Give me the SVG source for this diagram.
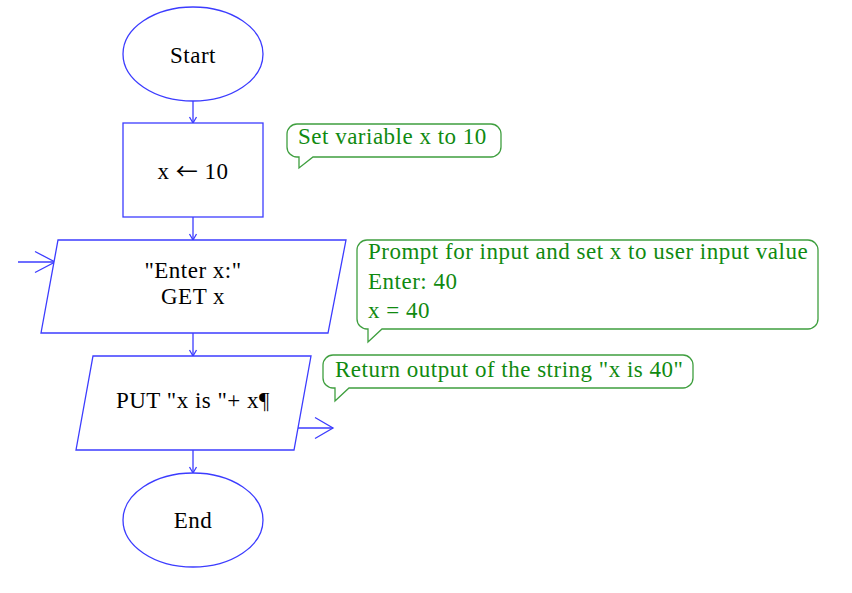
<svg xmlns="http://www.w3.org/2000/svg" width="852" height="593" viewBox="0 0 852 593">
  <style>
    .shape { fill: #ffffff; stroke: #3c3cff; stroke-width: 1.3; }
    .conn { fill: none; stroke: #3c3cff; stroke-width: 1.3; }
    .lbl { font-family: "Liberation Serif", "Times New Roman", serif; font-size: 23px; letter-spacing: 0.5px; fill: #000000; text-anchor: middle; }
    .arrowglyph { font-family: "Noto Sans CJK SC", "DejaVu Sans", sans-serif; font-size: 22px; }
    .bubble { fill: #ffffff; stroke: #3f9f3f; stroke-width: 1.3; }
    .note { font-family: "Liberation Serif", "Times New Roman", serif; font-size: 23px; letter-spacing: 0.5px; fill: #108a10; }
  </style>
  <defs>
    <marker id="arr" markerUnits="userSpaceOnUse" viewBox="0 0 8 10" markerWidth="8" markerHeight="10" refX="7" refY="5" orient="auto" overflow="visible">
      <path d="M1,1.5 L7,5 L1,8.5" fill="none" stroke="#3c3cff" stroke-width="1.3"/>
    </marker>
  </defs>
  <rect width="852" height="593" fill="#ffffff"/>

  <g id="connectors">
    <line class="conn" x1="193" y1="101" x2="193" y2="123" marker-end="url(#arr)"/>
    <line class="conn" x1="193" y1="217" x2="193" y2="240" marker-end="url(#arr)"/>
    <line class="conn" x1="193" y1="333" x2="193" y2="356" marker-end="url(#arr)"/>
    <line class="conn" x1="193" y1="450" x2="193" y2="473" marker-end="url(#arr)"/>
    <line class="conn" x1="18" y1="262" x2="55" y2="262"/>
    <polyline class="conn" points="35,251.5 55,262 35,272.5"/>
    <line class="conn" x1="298" y1="428" x2="333" y2="428"/>
    <polyline class="conn" points="315,417.5 333,428 315,438.5"/>
  </g>

  <g id="start">
    <ellipse class="shape" cx="193" cy="54" rx="70" ry="47"/>
    <text class="lbl" x="193" y="63">Start</text>
  </g>

  <g id="assign">
    <rect class="shape" x="123" y="123" width="140" height="94"/>
    <text class="lbl" x="193" y="179">x <tspan class="arrowglyph">←</tspan> 10</text>
  </g>

  <g id="input">
    <polygon class="shape" points="58,240 346,240 328,333 41,333"/>
    <text class="lbl" x="193" y="278">"Enter x:"</text>
    <text class="lbl" x="193" y="304">GET x</text>
  </g>

  <g id="output">
    <polygon class="shape" points="93,356 311,356 294,450 76,450"/>
    <text class="lbl" x="193" y="408">PUT "x is "+ x¶</text>
  </g>

  <g id="end">
    <ellipse class="shape" cx="193" cy="520" rx="70" ry="47"/>
    <text class="lbl" x="193" y="528">End</text>
  </g>

  <g id="note1">
    <path class="bubble" d="M297,124 H491 A10,10 0 0 1 501,134 V147 A10,10 0 0 1 491,157 H313 L299,168 V157 H297 A10,10 0 0 1 287,147 V134 A10,10 0 0 1 297,124 Z"/>
    <text class="note" x="298" y="144">Set variable x to 10</text>
  </g>

  <g id="note2">
    <path class="bubble" d="M367,240 H808 A10,10 0 0 1 818,250 V319 A10,10 0 0 1 808,329 H382 L368,342 V329 H367 A10,10 0 0 1 357,319 V250 A10,10 0 0 1 367,240 Z"/>
    <text class="note" x="368" y="259">Prompt for input and set x to user input value</text>
    <text class="note" x="368" y="289">Enter: 40</text>
    <text class="note" x="368" y="318">x = 40</text>
  </g>

  <g id="note3">
    <path class="bubble" d="M333,355 H683 A10,10 0 0 1 693,365 V378 A10,10 0 0 1 683,388 H349 L335,401 V388 H333 A10,10 0 0 1 323,378 V365 A10,10 0 0 1 333,355 Z"/>
    <text class="note" x="335" y="377">Return output of the string "x is 40"</text>
  </g>
</svg>
